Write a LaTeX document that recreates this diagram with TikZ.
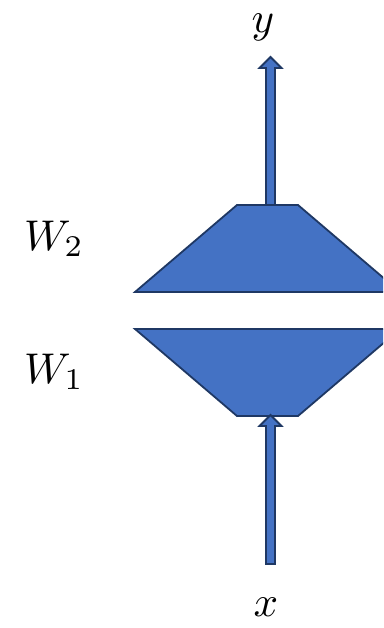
\documentclass[tikz,border=0pt]{standalone}
\usetikzlibrary{calc}
\definecolor{fillblue}{HTML}{4472C4}
\definecolor{edgeblue}{HTML}{1F3864}
\tikzset{
  block/.style={fill=fillblue, draw=edgeblue, line width=1.8pt, line join=miter},
  lbl/.style={inner sep=0pt, scale=4.3},
}
\begin{document}
\begin{tikzpicture}[x=1pt,y=-1pt]
\useasboundingbox (0,0) rectangle (383,628);
\begin{scope}
\clip (0,0) rectangle (383,628);
% named points
\coordinate (ytail) at (270.5,205);
\coordinate (ytip) at (270.5,57);
\coordinate (xtail) at (270.5,564);
\coordinate (xtip) at (270.5,415);
% output arrow
\draw[block] ($(ytail)+(-4.5,0)$) -- ($(ytip)+(-4.5,11)$) -- ($(ytip)+(-11,11)$) -- (ytip)
  -- ($(ytip)+(11,11)$) -- ($(ytip)+(4.5,11)$) -- ($(ytail)+(4.5,0)$) -- cycle;
% upper layer W2
\draw[block] (237,205) coordinate (w2a) -- (298,205) -- (400,292) -- (135,292) -- cycle;
% lower layer W1
\draw[block] (135,329) coordinate (w1a) -- (400,329) -- (298,416) -- (237,416) -- cycle;
% input arrow
\draw[block] ($(xtail)+(-4.5,0)$) -- ($(xtip)+(-4.5,11)$) -- ($(xtip)+(-11,11)$) -- (xtip)
  -- ($(xtip)+(11,11)$) -- ($(xtip)+(4.5,11)$) -- ($(xtail)+(4.5,0)$) -- cycle;
\end{scope}
% labels
\node[lbl] (ylab) at (263,27) {$y$};
\node[lbl] (xlab) at (266,607) {$x$};
\node[lbl] (w2) at (54,239) {$W_2$};
\node[lbl] (w1) at (54,372) {$W_1$};
\end{tikzpicture}
\end{document}
